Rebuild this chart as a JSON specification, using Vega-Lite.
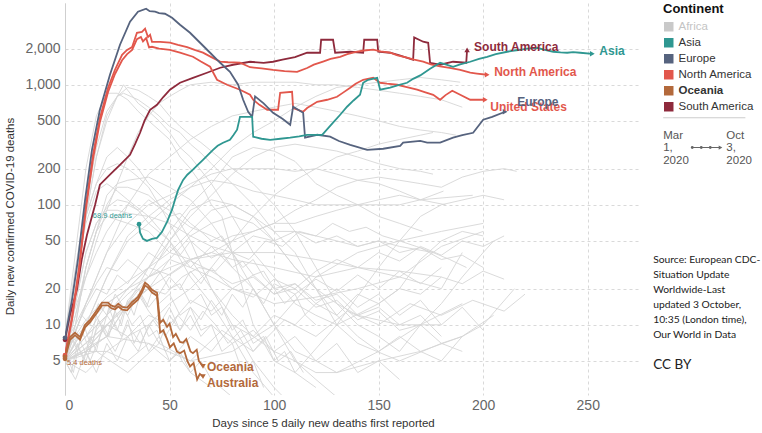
{
"$schema": "https://vega.github.io/schema/vega-lite/v6.json",
"width": 575, "height": 392,
"autosize": {"type": "none"},
"padding": {"left": 65, "top": 3, "right": 122, "bottom": 38},
"background": "white",
"config": {"font": "Liberation Sans", "view": {"stroke": null}},
"datasets": {
"gray": [
{"id":"g01","day":0,"deaths":6},{"id":"g01","day":5,"deaths":12},{"id":"g01","day":10,"deaths":25},{"id":"g01","day":15,"deaths":50},{"id":"g01","day":20,"deaths":90},{"id":"g01","day":25,"deaths":150},{"id":"g01","day":30,"deaths":250},{"id":"g01","day":35,"deaths":400},{"id":"g01","day":40,"deaths":550},{"id":"g01","day":45,"deaths":700},{"id":"g01","day":50,"deaths":800},{"id":"g01","day":55,"deaths":900},{"id":"g01","day":60,"deaths":1000},{"id":"g01","day":70,"deaths":1050},{"id":"g01","day":80,"deaths":1000},{"id":"g01","day":90,"deaths":1050},{"id":"g01","day":100,"deaths":1050},{"id":"g01","day":110,"deaths":1050},{"id":"g01","day":120,"deaths":1000},{"id":"g01","day":130,"deaths":1000},{"id":"g01","day":140,"deaths":950},{"id":"g01","day":150,"deaths":900},{"id":"g01","day":160,"deaths":850},{"id":"g01","day":170,"deaths":800},{"id":"g01","day":180,"deaths":750},{"id":"g01","day":190,"deaths":650},
{"id":"g02","day":0,"deaths":5},{"id":"g02","day":10,"deaths":10},{"id":"g02","day":20,"deaths":25},{"id":"g02","day":30,"deaths":50},{"id":"g02","day":40,"deaths":70},{"id":"g02","day":50,"deaths":100},{"id":"g02","day":60,"deaths":140},{"id":"g02","day":70,"deaths":200},{"id":"g02","day":80,"deaths":300},{"id":"g02","day":90,"deaths":400},{"id":"g02","day":100,"deaths":500},{"id":"g02","day":110,"deaths":650},{"id":"g02","day":120,"deaths":800},{"id":"g02","day":130,"deaths":950},{"id":"g02","day":140,"deaths":1000},{"id":"g02","day":150,"deaths":1050},{"id":"g02","day":160,"deaths":1100},{"id":"g02","day":170,"deaths":1150},{"id":"g02","day":180,"deaths":1100},{"id":"g02","day":189,"deaths":1050},
{"id":"g03","day":0,"deaths":5},{"id":"g03","day":10,"deaths":15},{"id":"g03","day":20,"deaths":40},{"id":"g03","day":30,"deaths":100},{"id":"g03","day":40,"deaths":180},{"id":"g03","day":50,"deaths":250},{"id":"g03","day":60,"deaths":350},{"id":"g03","day":70,"deaths":450},{"id":"g03","day":80,"deaths":550},{"id":"g03","day":90,"deaths":600},{"id":"g03","day":100,"deaths":650},{"id":"g03","day":110,"deaths":700},{"id":"g03","day":120,"deaths":650},{"id":"g03","day":130,"deaths":600},{"id":"g03","day":140,"deaths":550},{"id":"g03","day":150,"deaths":500},{"id":"g03","day":160,"deaths":450},{"id":"g03","day":170,"deaths":420},{"id":"g03","day":180,"deaths":400},{"id":"g03","day":187,"deaths":380},
{"id":"g04","day":0,"deaths":6},{"id":"g04","day":5,"deaths":20},{"id":"g04","day":10,"deaths":80},{"id":"g04","day":15,"deaths":250},{"id":"g04","day":20,"deaths":550},{"id":"g04","day":25,"deaths":800},{"id":"g04","day":30,"deaths":950},{"id":"g04","day":35,"deaths":900},{"id":"g04","day":40,"deaths":800},{"id":"g04","day":45,"deaths":700},{"id":"g04","day":50,"deaths":550},{"id":"g04","day":55,"deaths":450},{"id":"g04","day":60,"deaths":380},{"id":"g04","day":65,"deaths":330},{"id":"g04","day":70,"deaths":280},{"id":"g04","day":80,"deaths":200},{"id":"g04","day":90,"deaths":150},{"id":"g04","day":100,"deaths":100},{"id":"g04","day":110,"deaths":60},{"id":"g04","day":120,"deaths":30},{"id":"g04","day":130,"deaths":15},{"id":"g04","day":140,"deaths":10},{"id":"g04","day":150,"deaths":8},{"id":"g04","day":160,"deaths":6},{"id":"g04","day":170,"deaths":10},{"id":"g04","day":180,"deaths":15},{"id":"g04","day":190,"deaths":25},{"id":"g04","day":200,"deaths":40},{"id":"g04","day":205,"deaths":50},
{"id":"g05","day":0,"deaths":8},{"id":"g05","day":5,"deaths":30},{"id":"g05","day":10,"deaths":100},{"id":"g05","day":15,"deaths":300},{"id":"g05","day":20,"deaths":600},{"id":"g05","day":25,"deaths":800},{"id":"g05","day":28,"deaths":850},{"id":"g05","day":35,"deaths":750},{"id":"g05","day":40,"deaths":650},{"id":"g05","day":45,"deaths":550},{"id":"g05","day":50,"deaths":450},{"id":"g05","day":55,"deaths":400},{"id":"g05","day":60,"deaths":320},{"id":"g05","day":65,"deaths":270},{"id":"g05","day":70,"deaths":220},{"id":"g05","day":75,"deaths":180},{"id":"g05","day":80,"deaths":150},{"id":"g05","day":90,"deaths":100},{"id":"g05","day":100,"deaths":60},{"id":"g05","day":110,"deaths":40},{"id":"g05","day":120,"deaths":20},{"id":"g05","day":130,"deaths":12},{"id":"g05","day":140,"deaths":8},{"id":"g05","day":150,"deaths":6},{"id":"g05","day":160,"deaths":8},{"id":"g05","day":170,"deaths":6},{"id":"g05","day":180,"deaths":5},{"id":"g05","day":190,"deaths":8},{"id":"g05","day":200,"deaths":10},{"id":"g05","day":215,"deaths":20},
{"id":"g06","day":0,"deaths":8},{"id":"g06","day":5,"deaths":40},{"id":"g06","day":10,"deaths":200},{"id":"g06","day":15,"deaths":550},{"id":"g06","day":20,"deaths":850},{"id":"g06","day":25,"deaths":850},{"id":"g06","day":30,"deaths":750},{"id":"g06","day":35,"deaths":600},{"id":"g06","day":40,"deaths":500},{"id":"g06","day":45,"deaths":420},{"id":"g06","day":50,"deaths":350},{"id":"g06","day":55,"deaths":250},{"id":"g06","day":60,"deaths":200},{"id":"g06","day":65,"deaths":150},{"id":"g06","day":70,"deaths":100},{"id":"g06","day":75,"deaths":80},{"id":"g06","day":80,"deaths":40},{"id":"g06","day":90,"deaths":10},{"id":"g06","day":100,"deaths":5},{"id":"g06","day":110,"deaths":4},{"id":"g06","day":130,"deaths":10},{"id":"g06","day":150,"deaths":30},{"id":"g06","day":160,"deaths":50},{"id":"g06","day":170,"deaths":80},{"id":"g06","day":180,"deaths":100},{"id":"g06","day":200,"deaths":120},{"id":"g06","day":210,"deaths":110},
{"id":"g07","day":0,"deaths":6},{"id":"g07","day":5,"deaths":25},{"id":"g07","day":10,"deaths":80},{"id":"g07","day":15,"deaths":250},{"id":"g07","day":20,"deaths":500},{"id":"g07","day":25,"deaths":800},{"id":"g07","day":28,"deaths":1000},{"id":"g07","day":30,"deaths":900},{"id":"g07","day":35,"deaths":700},{"id":"g07","day":40,"deaths":600},{"id":"g07","day":45,"deaths":500},{"id":"g07","day":50,"deaths":400},{"id":"g07","day":55,"deaths":300},{"id":"g07","day":60,"deaths":250},{"id":"g07","day":70,"deaths":150},{"id":"g07","day":80,"deaths":80},{"id":"g07","day":90,"deaths":40},{"id":"g07","day":100,"deaths":25},{"id":"g07","day":110,"deaths":15},{"id":"g07","day":120,"deaths":12},{"id":"g07","day":130,"deaths":10},{"id":"g07","day":150,"deaths":15},{"id":"g07","day":160,"deaths":20},{"id":"g07","day":170,"deaths":35},{"id":"g07","day":180,"deaths":50},{"id":"g07","day":190,"deaths":60},{"id":"g07","day":200,"deaths":55},
{"id":"g08","day":0,"deaths":5},{"id":"g08","day":10,"deaths":15},{"id":"g08","day":20,"deaths":40},{"id":"g08","day":30,"deaths":70},{"id":"g08","day":40,"deaths":100},{"id":"g08","day":50,"deaths":120},{"id":"g08","day":60,"deaths":150},{"id":"g08","day":70,"deaths":180},{"id":"g08","day":80,"deaths":200},{"id":"g08","day":90,"deaths":200},{"id":"g08","day":100,"deaths":200},{"id":"g08","day":110,"deaths":190},{"id":"g08","day":120,"deaths":200},{"id":"g08","day":130,"deaths":180},{"id":"g08","day":140,"deaths":160},{"id":"g08","day":150,"deaths":150},{"id":"g08","day":160,"deaths":130},{"id":"g08","day":170,"deaths":110},{"id":"g08","day":182,"deaths":100},
{"id":"g09","day":0,"deaths":5},{"id":"g09","day":10,"deaths":8},{"id":"g09","day":20,"deaths":12},{"id":"g09","day":30,"deaths":20},{"id":"g09","day":40,"deaths":30},{"id":"g09","day":50,"deaths":50},{"id":"g09","day":60,"deaths":80},{"id":"g09","day":70,"deaths":120},{"id":"g09","day":80,"deaths":180},{"id":"g09","day":90,"deaths":250},{"id":"g09","day":100,"deaths":300},{"id":"g09","day":110,"deaths":320},{"id":"g09","day":120,"deaths":300},{"id":"g09","day":130,"deaths":280},{"id":"g09","day":140,"deaths":250},{"id":"g09","day":150,"deaths":220},{"id":"g09","day":160,"deaths":200},{"id":"g09","day":170,"deaths":190},{"id":"g09","day":176,"deaths":180},
{"id":"g10","day":0,"deaths":5},{"id":"g10","day":10,"deaths":6},{"id":"g10","day":20,"deaths":6},{"id":"g10","day":30,"deaths":8},{"id":"g10","day":40,"deaths":10},{"id":"g10","day":50,"deaths":15},{"id":"g10","day":60,"deaths":20},{"id":"g10","day":70,"deaths":30},{"id":"g10","day":80,"deaths":50},{"id":"g10","day":90,"deaths":80},{"id":"g10","day":100,"deaths":120},{"id":"g10","day":110,"deaths":160},{"id":"g10","day":120,"deaths":200},{"id":"g10","day":130,"deaths":250},{"id":"g10","day":140,"deaths":280},{"id":"g10","day":150,"deaths":320},{"id":"g10","day":160,"deaths":350},{"id":"g10","day":170,"deaths":380},{"id":"g10","day":176,"deaths":400},
{"id":"g11","day":0,"deaths":6},{"id":"g11","day":5,"deaths":12},{"id":"g11","day":10,"deaths":30},{"id":"g11","day":15,"deaths":60},{"id":"g11","day":20,"deaths":100},{"id":"g11","day":25,"deaths":140},{"id":"g11","day":30,"deaths":140},{"id":"g11","day":35,"deaths":130},{"id":"g11","day":40,"deaths":120},{"id":"g11","day":45,"deaths":100},{"id":"g11","day":50,"deaths":90},{"id":"g11","day":55,"deaths":75},{"id":"g11","day":60,"deaths":65},{"id":"g11","day":65,"deaths":60},{"id":"g11","day":70,"deaths":55},{"id":"g11","day":75,"deaths":50},{"id":"g11","day":80,"deaths":55},{"id":"g11","day":90,"deaths":60},{"id":"g11","day":100,"deaths":70},{"id":"g11","day":110,"deaths":90},{"id":"g11","day":120,"deaths":110},{"id":"g11","day":130,"deaths":140},{"id":"g11","day":140,"deaths":160},{"id":"g11","day":150,"deaths":170},{"id":"g11","day":160,"deaths":160},{"id":"g11","day":170,"deaths":150},{"id":"g11","day":180,"deaths":140},{"id":"g11","day":190,"deaths":170},{"id":"g11","day":200,"deaths":190},{"id":"g11","day":210,"deaths":200},{"id":"g11","day":216,"deaths":190},
{"id":"g12","day":0,"deaths":5},{"id":"g12","day":10,"deaths":10},{"id":"g12","day":20,"deaths":25},{"id":"g12","day":30,"deaths":55},{"id":"g12","day":40,"deaths":80},{"id":"g12","day":50,"deaths":110},{"id":"g12","day":60,"deaths":140},{"id":"g12","day":70,"deaths":160},{"id":"g12","day":80,"deaths":150},{"id":"g12","day":90,"deaths":130},{"id":"g12","day":100,"deaths":120},{"id":"g12","day":110,"deaths":110},{"id":"g12","day":120,"deaths":100},{"id":"g12","day":140,"deaths":100},{"id":"g12","day":160,"deaths":100},{"id":"g12","day":170,"deaths":110},{"id":"g12","day":181,"deaths":130},
{"id":"g13","day":0,"deaths":6},{"id":"g13","day":5,"deaths":20},{"id":"g13","day":10,"deaths":80},{"id":"g13","day":15,"deaths":150},{"id":"g13","day":20,"deaths":200},{"id":"g13","day":25,"deaths":220},{"id":"g13","day":30,"deaths":200},{"id":"g13","day":35,"deaths":170},{"id":"g13","day":40,"deaths":140},{"id":"g13","day":45,"deaths":100},{"id":"g13","day":50,"deaths":70},{"id":"g13","day":55,"deaths":50},{"id":"g13","day":60,"deaths":35},{"id":"g13","day":70,"deaths":20},{"id":"g13","day":80,"deaths":12},{"id":"g13","day":90,"deaths":8},{"id":"g13","day":100,"deaths":6},{"id":"g13","day":110,"deaths":5},{"id":"g13","day":120,"deaths":4},{"id":"g13","day":130,"deaths":4},{"id":"g13","day":150,"deaths":5},{"id":"g13","day":170,"deaths":6},{"id":"g13","day":190,"deaths":8},{"id":"g13","day":205,"deaths":12},
{"id":"g14","day":0,"deaths":5},{"id":"g14","day":5,"deaths":20},{"id":"g14","day":10,"deaths":80},{"id":"g14","day":15,"deaths":150},{"id":"g14","day":20,"deaths":250},{"id":"g14","day":25,"deaths":300},{"id":"g14","day":30,"deaths":250},{"id":"g14","day":35,"deaths":200},{"id":"g14","day":40,"deaths":150},{"id":"g14","day":50,"deaths":100},{"id":"g14","day":60,"deaths":50},{"id":"g14","day":70,"deaths":20},{"id":"g14","day":80,"deaths":10},{"id":"g14","day":90,"deaths":5},{"id":"g14","day":100,"deaths":3},{"id":"g14","day":110,"deaths":2},
{"id":"g15","day":0,"deaths":6},{"id":"g15","day":5,"deaths":25},{"id":"g15","day":10,"deaths":70},{"id":"g15","day":15,"deaths":130},{"id":"g15","day":20,"deaths":150},{"id":"g15","day":25,"deaths":130},{"id":"g15","day":30,"deaths":110},{"id":"g15","day":40,"deaths":80},{"id":"g15","day":50,"deaths":50},{"id":"g15","day":60,"deaths":25},{"id":"g15","day":70,"deaths":15},{"id":"g15","day":80,"deaths":8},{"id":"g15","day":90,"deaths":4},{"id":"g15","day":100,"deaths":2.5},
{"id":"g16","day":0,"deaths":5},{"id":"g16","day":5,"deaths":15},{"id":"g16","day":10,"deaths":40},{"id":"g16","day":15,"deaths":70},{"id":"g16","day":20,"deaths":90},{"id":"g16","day":25,"deaths":90},{"id":"g16","day":30,"deaths":85},{"id":"g16","day":40,"deaths":80},{"id":"g16","day":50,"deaths":70},{"id":"g16","day":60,"deaths":55},{"id":"g16","day":70,"deaths":45},{"id":"g16","day":80,"deaths":30},{"id":"g16","day":90,"deaths":20},{"id":"g16","day":100,"deaths":10},{"id":"g16","day":110,"deaths":5},{"id":"g16","day":120,"deaths":3.5},{"id":"g16","day":130,"deaths":2.5},
{"id":"g17","day":0,"deaths":5},{"id":"g17","day":5,"deaths":10},{"id":"g17","day":10,"deaths":30},{"id":"g17","day":15,"deaths":60},{"id":"g17","day":20,"deaths":120},{"id":"g17","day":25,"deaths":150},{"id":"g17","day":30,"deaths":160},{"id":"g17","day":40,"deaths":170},{"id":"g17","day":50,"deaths":140},{"id":"g17","day":60,"deaths":110},{"id":"g17","day":70,"deaths":70},{"id":"g17","day":80,"deaths":40},{"id":"g17","day":90,"deaths":20},{"id":"g17","day":100,"deaths":10},{"id":"g17","day":110,"deaths":6},{"id":"g17","day":120,"deaths":5},{"id":"g17","day":130,"deaths":4},{"id":"g17","day":150,"deaths":6},{"id":"g17","day":170,"deaths":10},{"id":"g17","day":190,"deaths":15},
{"id":"g18","day":0,"deaths":5},{"id":"g18","day":5,"deaths":10},{"id":"g18","day":10,"deaths":30},{"id":"g18","day":15,"deaths":60},{"id":"g18","day":20,"deaths":80},{"id":"g18","day":30,"deaths":70},{"id":"g18","day":40,"deaths":60},{"id":"g18","day":50,"deaths":40},{"id":"g18","day":60,"deaths":35},{"id":"g18","day":70,"deaths":40},{"id":"g18","day":80,"deaths":35},{"id":"g18","day":100,"deaths":30},{"id":"g18","day":120,"deaths":25},{"id":"g18","day":140,"deaths":30},{"id":"g18","day":160,"deaths":25},{"id":"g18","day":180,"deaths":20},{"id":"g18","day":190,"deaths":40},
{"id":"g19","day":0,"deaths":5},{"id":"g19","day":10,"deaths":6},{"id":"g19","day":20,"deaths":8},{"id":"g19","day":30,"deaths":15},{"id":"g19","day":40,"deaths":25},{"id":"g19","day":50,"deaths":50},{"id":"g19","day":60,"deaths":90},{"id":"g19","day":70,"deaths":110},{"id":"g19","day":80,"deaths":100},{"id":"g19","day":90,"deaths":80},{"id":"g19","day":100,"deaths":60},{"id":"g19","day":110,"deaths":60},{"id":"g19","day":120,"deaths":55},{"id":"g19","day":130,"deaths":50},{"id":"g19","day":140,"deaths":45},{"id":"g19","day":150,"deaths":50},{"id":"g19","day":160,"deaths":45},{"id":"g19","day":176,"deaths":40},
{"id":"g20","day":0,"deaths":5},{"id":"g20","day":10,"deaths":6},{"id":"g20","day":20,"deaths":8},{"id":"g20","day":30,"deaths":15},{"id":"g20","day":40,"deaths":30},{"id":"g20","day":50,"deaths":60},{"id":"g20","day":60,"deaths":100},{"id":"g20","day":70,"deaths":150},{"id":"g20","day":80,"deaths":250},{"id":"g20","day":90,"deaths":300},{"id":"g20","day":100,"deaths":280},{"id":"g20","day":110,"deaths":230},{"id":"g20","day":120,"deaths":150},{"id":"g20","day":130,"deaths":120},{"id":"g20","day":140,"deaths":100},{"id":"g20","day":150,"deaths":80},{"id":"g20","day":160,"deaths":70},{"id":"g20","day":171,"deaths":60},
{"id":"g21","day":0,"deaths":6},{"id":"g21","day":10,"deaths":10},{"id":"g21","day":20,"deaths":15},{"id":"g21","day":30,"deaths":20},{"id":"g21","day":40,"deaths":25},{"id":"g21","day":50,"deaths":30},{"id":"g21","day":60,"deaths":35},{"id":"g21","day":70,"deaths":40},{"id":"g21","day":80,"deaths":50},{"id":"g21","day":90,"deaths":60},{"id":"g21","day":100,"deaths":70},{"id":"g21","day":110,"deaths":70},{"id":"g21","day":120,"deaths":80},{"id":"g21","day":130,"deaths":90},{"id":"g21","day":140,"deaths":100},{"id":"g21","day":150,"deaths":110},{"id":"g21","day":160,"deaths":120},{"id":"g21","day":170,"deaths":110},{"id":"g21","day":195,"deaths":120},
{"id":"g22","day":0,"deaths":5},{"id":"g22","day":5,"deaths":15},{"id":"g22","day":10,"deaths":40},{"id":"g22","day":15,"deaths":70},{"id":"g22","day":20,"deaths":95},{"id":"g22","day":25,"deaths":110},{"id":"g22","day":30,"deaths":105},{"id":"g22","day":35,"deaths":90},{"id":"g22","day":40,"deaths":70},{"id":"g22","day":50,"deaths":50},{"id":"g22","day":60,"deaths":30},{"id":"g22","day":70,"deaths":25},{"id":"g22","day":80,"deaths":20},{"id":"g22","day":90,"deaths":18},{"id":"g22","day":100,"deaths":15},{"id":"g22","day":120,"deaths":17},{"id":"g22","day":140,"deaths":20},{"id":"g22","day":160,"deaths":25},{"id":"g22","day":180,"deaths":45},{"id":"g22","day":200,"deaths":60},
{"id":"g23","day":0,"deaths":5},{"id":"g23","day":10,"deaths":8},{"id":"g23","day":20,"deaths":15},{"id":"g23","day":30,"deaths":20},{"id":"g23","day":40,"deaths":30},{"id":"g23","day":50,"deaths":40},{"id":"g23","day":60,"deaths":60},{"id":"g23","day":70,"deaths":90},{"id":"g23","day":80,"deaths":100},{"id":"g23","day":90,"deaths":80},{"id":"g23","day":100,"deaths":50},{"id":"g23","day":110,"deaths":30},{"id":"g23","day":120,"deaths":20},{"id":"g23","day":130,"deaths":10},{"id":"g23","day":140,"deaths":7},{"id":"g23","day":160,"deaths":5},{"id":"g23","day":180,"deaths":7},{"id":"g23","day":190,"deaths":6},
{"id":"g24","day":0,"deaths":5},{"id":"g24","day":10,"deaths":6},{"id":"g24","day":20,"deaths":10},{"id":"g24","day":30,"deaths":15},{"id":"g24","day":40,"deaths":20},{"id":"g24","day":50,"deaths":35},{"id":"g24","day":60,"deaths":55},{"id":"g24","day":70,"deaths":70},{"id":"g24","day":80,"deaths":80},{"id":"g24","day":90,"deaths":70},{"id":"g24","day":100,"deaths":50},{"id":"g24","day":110,"deaths":30},{"id":"g24","day":120,"deaths":20},{"id":"g24","day":130,"deaths":15},{"id":"g24","day":140,"deaths":12},{"id":"g24","day":160,"deaths":10},{"id":"g24","day":180,"deaths":10},
{"id":"g25","day":0,"deaths":5},{"id":"g25","day":20,"deaths":10},{"id":"g25","day":40,"deaths":20},{"id":"g25","day":60,"deaths":35},{"id":"g25","day":80,"deaths":40},{"id":"g25","day":100,"deaths":40},{"id":"g25","day":120,"deaths":35},{"id":"g25","day":140,"deaths":30},{"id":"g25","day":160,"deaths":28},{"id":"g25","day":180,"deaths":25},
{"id":"g26","day":0,"deaths":5},{"id":"g26","day":20,"deaths":8},{"id":"g26","day":40,"deaths":7},{"id":"g26","day":60,"deaths":5},{"id":"g26","day":80,"deaths":6},{"id":"g26","day":100,"deaths":10},{"id":"g26","day":120,"deaths":25},{"id":"g26","day":140,"deaths":40},{"id":"g26","day":160,"deaths":50},{"id":"g26","day":180,"deaths":60},{"id":"g26","day":200,"deaths":70},
{"id":"l01","day":0,"deaths":5},{"id":"l01","day":3,"deaths":8},{"id":"l01","day":6,"deaths":6},{"id":"l01","day":9,"deaths":10},{"id":"l01","day":12,"deaths":7},{"id":"l01","day":15,"deaths":12},{"id":"l01","day":18,"deaths":9},{"id":"l01","day":21,"deaths":14},{"id":"l01","day":24,"deaths":10},{"id":"l01","day":27,"deaths":8},{"id":"l01","day":30,"deaths":11},{"id":"l01","day":33,"deaths":7},{"id":"l01","day":36,"deaths":9},{"id":"l01","day":40,"deaths":6},{"id":"l01","day":45,"deaths":8},{"id":"l01","day":50,"deaths":5},{"id":"l01","day":55,"deaths":6},{"id":"l01","day":60,"deaths":4},{"id":"l01","day":65,"deaths":5},{"id":"l01","day":70,"deaths":3.5},{"id":"l01","day":80,"deaths":2.5},
{"id":"l02","day":0,"deaths":6},{"id":"l02","day":4,"deaths":4},{"id":"l02","day":8,"deaths":9},{"id":"l02","day":12,"deaths":6},{"id":"l02","day":16,"deaths":11},{"id":"l02","day":20,"deaths":8},{"id":"l02","day":25,"deaths":15},{"id":"l02","day":30,"deaths":12},{"id":"l02","day":35,"deaths":18},{"id":"l02","day":40,"deaths":13},{"id":"l02","day":45,"deaths":10},{"id":"l02","day":50,"deaths":14},{"id":"l02","day":55,"deaths":9},{"id":"l02","day":60,"deaths":12},{"id":"l02","day":65,"deaths":8},{"id":"l02","day":70,"deaths":10},{"id":"l02","day":80,"deaths":7},{"id":"l02","day":90,"deaths":9},{"id":"l02","day":100,"deaths":6},{"id":"l02","day":110,"deaths":8},{"id":"l02","day":120,"deaths":5},{"id":"l02","day":130,"deaths":7},{"id":"l02","day":140,"deaths":4},{"id":"l02","day":150,"deaths":5},{"id":"l02","day":160,"deaths":3.5},
{"id":"l03","day":0,"deaths":5},{"id":"l03","day":5,"deaths":7},{"id":"l03","day":10,"deaths":5},{"id":"l03","day":15,"deaths":9},{"id":"l03","day":20,"deaths":12},{"id":"l03","day":25,"deaths":9},{"id":"l03","day":30,"deaths":16},{"id":"l03","day":35,"deaths":20},{"id":"l03","day":40,"deaths":14},{"id":"l03","day":45,"deaths":18},{"id":"l03","day":50,"deaths":25},{"id":"l03","day":55,"deaths":20},{"id":"l03","day":60,"deaths":28},{"id":"l03","day":65,"deaths":22},{"id":"l03","day":70,"deaths":30},{"id":"l03","day":75,"deaths":24},{"id":"l03","day":80,"deaths":20},{"id":"l03","day":90,"deaths":26},{"id":"l03","day":100,"deaths":18},{"id":"l03","day":110,"deaths":22},{"id":"l03","day":120,"deaths":15},{"id":"l03","day":130,"deaths":20},{"id":"l03","day":140,"deaths":14},{"id":"l03","day":150,"deaths":18},{"id":"l03","day":160,"deaths":12},{"id":"l03","day":170,"deaths":16},{"id":"l03","day":180,"deaths":10},{"id":"l03","day":190,"deaths":14},{"id":"l03","day":200,"deaths":9},
{"id":"l04","day":0,"deaths":5},{"id":"l04","day":10,"deaths":4},{"id":"l04","day":20,"deaths":6},{"id":"l04","day":30,"deaths":5},{"id":"l04","day":40,"deaths":7},{"id":"l04","day":50,"deaths":5},{"id":"l04","day":60,"deaths":8},{"id":"l04","day":70,"deaths":6},{"id":"l04","day":80,"deaths":10},{"id":"l04","day":90,"deaths":8},{"id":"l04","day":100,"deaths":12},{"id":"l04","day":110,"deaths":10},{"id":"l04","day":120,"deaths":15},{"id":"l04","day":130,"deaths":12},{"id":"l04","day":140,"deaths":18},{"id":"l04","day":150,"deaths":15},{"id":"l04","day":160,"deaths":20},{"id":"l04","day":170,"deaths":18},{"id":"l04","day":180,"deaths":25},{"id":"l04","day":190,"deaths":22},{"id":"l04","day":200,"deaths":28},{"id":"l04","day":210,"deaths":24},
{"id":"l05","day":0,"deaths":5},{"id":"l05","day":5,"deaths":3.5},{"id":"l05","day":10,"deaths":6},{"id":"l05","day":15,"deaths":4},{"id":"l05","day":20,"deaths":7},{"id":"l05","day":25,"deaths":5},{"id":"l05","day":30,"deaths":8},{"id":"l05","day":35,"deaths":6},{"id":"l05","day":40,"deaths":10},{"id":"l05","day":45,"deaths":7},{"id":"l05","day":50,"deaths":12},{"id":"l05","day":55,"deaths":9},{"id":"l05","day":60,"deaths":14},{"id":"l05","day":65,"deaths":11},{"id":"l05","day":70,"deaths":16},{"id":"l05","day":75,"deaths":12},{"id":"l05","day":80,"deaths":18},{"id":"l05","day":85,"deaths":14},{"id":"l05","day":90,"deaths":20},{"id":"l05","day":95,"deaths":15},{"id":"l05","day":100,"deaths":22},{"id":"l05","day":110,"deaths":18},{"id":"l05","day":120,"deaths":24},{"id":"l05","day":130,"deaths":19},{"id":"l05","day":140,"deaths":26},{"id":"l05","day":150,"deaths":20},{"id":"l05","day":160,"deaths":28},{"id":"l05","day":170,"deaths":22},{"id":"l05","day":180,"deaths":30},
{"id":"l06","day":0,"deaths":7},{"id":"l06","day":5,"deaths":10},{"id":"l06","day":10,"deaths":15},{"id":"l06","day":15,"deaths":22},{"id":"l06","day":20,"deaths":30},{"id":"l06","day":25,"deaths":28},{"id":"l06","day":30,"deaths":35},{"id":"l06","day":35,"deaths":30},{"id":"l06","day":40,"deaths":25},{"id":"l06","day":45,"deaths":28},{"id":"l06","day":50,"deaths":20},{"id":"l06","day":55,"deaths":22},{"id":"l06","day":60,"deaths":15},{"id":"l06","day":65,"deaths":18},{"id":"l06","day":70,"deaths":12},{"id":"l06","day":75,"deaths":14},{"id":"l06","day":80,"deaths":9},{"id":"l06","day":85,"deaths":11},{"id":"l06","day":90,"deaths":7},{"id":"l06","day":95,"deaths":8},{"id":"l06","day":100,"deaths":5},{"id":"l06","day":105,"deaths":6},{"id":"l06","day":110,"deaths":4},{"id":"l06","day":120,"deaths":3},
{"id":"l07","day":0,"deaths":5},{"id":"l07","day":5,"deaths":9},{"id":"l07","day":10,"deaths":14},{"id":"l07","day":15,"deaths":20},{"id":"l07","day":20,"deaths":18},{"id":"l07","day":25,"deaths":26},{"id":"l07","day":30,"deaths":22},{"id":"l07","day":35,"deaths":30},{"id":"l07","day":40,"deaths":40},{"id":"l07","day":45,"deaths":35},{"id":"l07","day":50,"deaths":45},{"id":"l07","day":55,"deaths":38},{"id":"l07","day":60,"deaths":50},{"id":"l07","day":65,"deaths":42},{"id":"l07","day":70,"deaths":36},{"id":"l07","day":75,"deaths":40},{"id":"l07","day":80,"deaths":30},{"id":"l07","day":85,"deaths":34},{"id":"l07","day":90,"deaths":26},{"id":"l07","day":95,"deaths":28},{"id":"l07","day":100,"deaths":20},{"id":"l07","day":110,"deaths":22},{"id":"l07","day":120,"deaths":16},{"id":"l07","day":130,"deaths":18},{"id":"l07","day":140,"deaths":12},{"id":"l07","day":150,"deaths":14},{"id":"l07","day":160,"deaths":10},{"id":"l07","day":170,"deaths":12},{"id":"l07","day":180,"deaths":8},
{"id":"l08","day":0,"deaths":6},{"id":"l08","day":4,"deaths":8},{"id":"l08","day":8,"deaths":12},{"id":"l08","day":12,"deaths":10},{"id":"l08","day":16,"deaths":15},{"id":"l08","day":20,"deaths":12},{"id":"l08","day":24,"deaths":18},{"id":"l08","day":28,"deaths":14},{"id":"l08","day":32,"deaths":10},{"id":"l08","day":36,"deaths":12},{"id":"l08","day":40,"deaths":8},{"id":"l08","day":44,"deaths":9},{"id":"l08","day":48,"deaths":6},{"id":"l08","day":52,"deaths":7},{"id":"l08","day":56,"deaths":5},{"id":"l08","day":60,"deaths":4},{"id":"l08","day":70,"deaths":3},
{"id":"l09","day":0,"deaths":5},{"id":"l09","day":10,"deaths":8},{"id":"l09","day":20,"deaths":12},{"id":"l09","day":30,"deaths":18},{"id":"l09","day":40,"deaths":25},{"id":"l09","day":50,"deaths":35},{"id":"l09","day":60,"deaths":30},{"id":"l09","day":70,"deaths":45},{"id":"l09","day":80,"deaths":40},{"id":"l09","day":90,"deaths":55},{"id":"l09","day":100,"deaths":50},{"id":"l09","day":110,"deaths":60},{"id":"l09","day":120,"deaths":48},{"id":"l09","day":130,"deaths":55},{"id":"l09","day":140,"deaths":45},{"id":"l09","day":150,"deaths":50},{"id":"l09","day":160,"deaths":40},{"id":"l09","day":170,"deaths":44},{"id":"l09","day":180,"deaths":35},{"id":"l09","day":190,"deaths":38},{"id":"l09","day":200,"deaths":30},
{"id":"l10","day":0,"deaths":5},{"id":"l10","day":3,"deaths":4},{"id":"l10","day":6,"deaths":7},{"id":"l10","day":9,"deaths":5},{"id":"l10","day":12,"deaths":8},{"id":"l10","day":15,"deaths":6},{"id":"l10","day":18,"deaths":10},{"id":"l10","day":21,"deaths":8},{"id":"l10","day":24,"deaths":13},{"id":"l10","day":27,"deaths":10},{"id":"l10","day":30,"deaths":16},{"id":"l10","day":33,"deaths":12},{"id":"l10","day":36,"deaths":18},{"id":"l10","day":39,"deaths":14},{"id":"l10","day":42,"deaths":20},{"id":"l10","day":45,"deaths":15},{"id":"l10","day":50,"deaths":18},{"id":"l10","day":55,"deaths":12},{"id":"l10","day":60,"deaths":14},{"id":"l10","day":65,"deaths":9},{"id":"l10","day":70,"deaths":10},{"id":"l10","day":75,"deaths":6},{"id":"l10","day":80,"deaths":7},{"id":"l10","day":85,"deaths":4},{"id":"l10","day":90,"deaths":5},{"id":"l10","day":95,"deaths":3},
{"id":"l11","day":0,"deaths":5},{"id":"l11","day":15,"deaths":6},{"id":"l11","day":30,"deaths":4},{"id":"l11","day":45,"deaths":7},{"id":"l11","day":60,"deaths":5},{"id":"l11","day":75,"deaths":9},{"id":"l11","day":90,"deaths":6},{"id":"l11","day":105,"deaths":11},{"id":"l11","day":120,"deaths":8},{"id":"l11","day":135,"deaths":13},{"id":"l11","day":150,"deaths":10},{"id":"l11","day":165,"deaths":15},{"id":"l11","day":180,"deaths":12},{"id":"l11","day":195,"deaths":16},{"id":"l11","day":210,"deaths":13},{"id":"l11","day":220,"deaths":18},
{"id":"l12","day":0,"deaths":6},{"id":"l12","day":10,"deaths":11},{"id":"l12","day":20,"deaths":17},{"id":"l12","day":30,"deaths":23},{"id":"l12","day":40,"deaths":30},{"id":"l12","day":50,"deaths":26},{"id":"l12","day":60,"deaths":34},{"id":"l12","day":70,"deaths":28},{"id":"l12","day":80,"deaths":22},{"id":"l12","day":90,"deaths":25},{"id":"l12","day":100,"deaths":18},{"id":"l12","day":110,"deaths":20},{"id":"l12","day":120,"deaths":14},{"id":"l12","day":130,"deaths":16},{"id":"l12","day":140,"deaths":11},{"id":"l12","day":150,"deaths":13},{"id":"l12","day":160,"deaths":9},{"id":"l12","day":170,"deaths":10},{"id":"l12","day":180,"deaths":7},{"id":"l12","day":190,"deaths":8},
{"id":"l13","day":0,"deaths":5},{"id":"l13","day":6,"deaths":8},{"id":"l13","day":12,"deaths":5},{"id":"l13","day":18,"deaths":9},{"id":"l13","day":24,"deaths":6},{"id":"l13","day":30,"deaths":10},{"id":"l13","day":36,"deaths":7},{"id":"l13","day":42,"deaths":11},{"id":"l13","day":48,"deaths":8},{"id":"l13","day":54,"deaths":12},{"id":"l13","day":60,"deaths":9},{"id":"l13","day":66,"deaths":13},{"id":"l13","day":72,"deaths":10},{"id":"l13","day":78,"deaths":7},{"id":"l13","day":84,"deaths":9},{"id":"l13","day":90,"deaths":6},{"id":"l13","day":96,"deaths":8},{"id":"l13","day":102,"deaths":5},{"id":"l13","day":108,"deaths":6},{"id":"l13","day":114,"deaths":4},
{"id":"l14","day":0,"deaths":5},{"id":"l14","day":10,"deaths":7},{"id":"l14","day":20,"deaths":10},{"id":"l14","day":30,"deaths":8},{"id":"l14","day":40,"deaths":12},{"id":"l14","day":50,"deaths":10},{"id":"l14","day":60,"deaths":16},{"id":"l14","day":70,"deaths":13},{"id":"l14","day":80,"deaths":20},{"id":"l14","day":90,"deaths":17},{"id":"l14","day":100,"deaths":24},{"id":"l14","day":110,"deaths":20},{"id":"l14","day":120,"deaths":28},{"id":"l14","day":130,"deaths":35},{"id":"l14","day":140,"deaths":30},{"id":"l14","day":150,"deaths":40},{"id":"l14","day":160,"deaths":34},{"id":"l14","day":170,"deaths":45},{"id":"l14","day":180,"deaths":38},{"id":"l14","day":190,"deaths":50},{"id":"l14","day":200,"deaths":45},{"id":"l14","day":210,"deaths":55},
{"id":"l15","day":0,"deaths":8},{"id":"l15","day":5,"deaths":14},{"id":"l15","day":10,"deaths":25},{"id":"l15","day":15,"deaths":40},{"id":"l15","day":20,"deaths":60},{"id":"l15","day":25,"deaths":80},{"id":"l15","day":30,"deaths":100},{"id":"l15","day":35,"deaths":90},{"id":"l15","day":40,"deaths":110},{"id":"l15","day":45,"deaths":95},{"id":"l15","day":50,"deaths":80},{"id":"l15","day":55,"deaths":85},{"id":"l15","day":60,"deaths":70},{"id":"l15","day":65,"deaths":60},{"id":"l15","day":70,"deaths":50},{"id":"l15","day":75,"deaths":55},{"id":"l15","day":80,"deaths":40},{"id":"l15","day":85,"deaths":30},{"id":"l15","day":90,"deaths":35},{"id":"l15","day":95,"deaths":25},{"id":"l15","day":100,"deaths":20},{"id":"l15","day":105,"deaths":15},{"id":"l15","day":110,"deaths":18},{"id":"l15","day":115,"deaths":12},{"id":"l15","day":120,"deaths":10},
{"id":"l16","day":0,"deaths":5},{"id":"l16","day":8,"deaths":6},{"id":"l16","day":16,"deaths":8},{"id":"l16","day":24,"deaths":12},{"id":"l16","day":32,"deaths":16},{"id":"l16","day":40,"deaths":20},{"id":"l16","day":48,"deaths":18},{"id":"l16","day":56,"deaths":25},{"id":"l16","day":64,"deaths":30},{"id":"l16","day":72,"deaths":28},{"id":"l16","day":80,"deaths":40},{"id":"l16","day":88,"deaths":35},{"id":"l16","day":96,"deaths":50},{"id":"l16","day":104,"deaths":45},{"id":"l16","day":112,"deaths":60},{"id":"l16","day":120,"deaths":55},{"id":"l16","day":128,"deaths":70},{"id":"l16","day":136,"deaths":60},{"id":"l16","day":144,"deaths":65},{"id":"l16","day":152,"deaths":55},{"id":"l16","day":160,"deaths":50},{"id":"l16","day":168,"deaths":45},{"id":"l16","day":176,"deaths":40},{"id":"l16","day":184,"deaths":35},{"id":"l16","day":192,"deaths":30}
],
"main": [
{"name":"South America","cont":"South America","day":0,"deaths":7.5},{"name":"South America","cont":"South America","day":2.4,"deaths":12.1},{"name":"South America","cont":"South America","day":5.7,"deaths":19.6},{"name":"South America","cont":"South America","day":8,"deaths":35},{"name":"South America","cont":"South America","day":10.5,"deaths":56},{"name":"South America","cont":"South America","day":14.4,"deaths":100},{"name":"South America","cont":"South America","day":16.7,"deaths":147},{"name":"South America","cont":"South America","day":21.5,"deaths":178},{"name":"South America","cont":"South America","day":26.3,"deaths":215},{"name":"South America","cont":"South America","day":31.1,"deaths":261},{"name":"South America","cont":"South America","day":33.5,"deaths":320},{"name":"South America","cont":"South America","day":35.9,"deaths":398},{"name":"South America","cont":"South America","day":38,"deaths":500},{"name":"South America","cont":"South America","day":40.7,"deaths":619},{"name":"South America","cont":"South America","day":44,"deaths":681},{"name":"South America","cont":"South America","day":47,"deaths":790},{"name":"South America","cont":"South America","day":50.2,"deaths":909},{"name":"South America","cont":"South America","day":55,"deaths":1039},{"name":"South America","cont":"South America","day":61.2,"deaths":1143},{"name":"South America","cont":"South America","day":67.9,"deaths":1259},{"name":"South America","cont":"South America","day":74.2,"deaths":1386},{"name":"South America","cont":"South America","day":80.4,"deaths":1468},{"name":"South America","cont":"South America","day":88.5,"deaths":1555},{"name":"South America","cont":"South America","day":95,"deaths":1520},{"name":"South America","cont":"South America","day":99.5,"deaths":1555},{"name":"South America","cont":"South America","day":104,"deaths":1620},{"name":"South America","cont":"South America","day":110,"deaths":1700},{"name":"South America","cont":"South America","day":115.8,"deaths":1848},{"name":"South America","cont":"South America","day":122,"deaths":1848},{"name":"South America","cont":"South America","day":122.5,"deaths":2371},{"name":"South America","cont":"South America","day":128.2,"deaths":2371},{"name":"South America","cont":"South America","day":129.2,"deaths":1848},{"name":"South America","cont":"South America","day":136.4,"deaths":1884},{"name":"South America","cont":"South America","day":142.6,"deaths":1848},{"name":"South America","cont":"South America","day":143.1,"deaths":2371},{"name":"South America","cont":"South America","day":149.3,"deaths":2371},{"name":"South America","cont":"South America","day":149.8,"deaths":1884},{"name":"South America","cont":"South America","day":155.5,"deaths":1848},{"name":"South America","cont":"South America","day":160,"deaths":1760},{"name":"South America","cont":"South America","day":166.5,"deaths":1616},{"name":"South America","cont":"South America","day":167,"deaths":2477},{"name":"South America","cont":"South America","day":171.3,"deaths":2282},{"name":"South America","cont":"South America","day":173.7,"deaths":2239},{"name":"South America","cont":"South America","day":174.6,"deaths":1525},{"name":"South America","cont":"South America","day":179.4,"deaths":1468},{"name":"South America","cont":"South America","day":185.6,"deaths":1555},{"name":"South America","cont":"South America","day":191.9,"deaths":1525},{"name":"South America","cont":"South America","day":192.3,"deaths":1957},
{"name":"North America","cont":"North America","day":0,"deaths":5.6},{"name":"North America","cont":"North America","day":3.3,"deaths":11.4},{"name":"North America","cont":"North America","day":6.7,"deaths":29.8},{"name":"North America","cont":"North America","day":10,"deaths":100},{"name":"North America","cont":"North America","day":13.4,"deaths":261},{"name":"North America","cont":"North America","day":16.7,"deaths":530},{"name":"North America","cont":"North America","day":20.6,"deaths":945},{"name":"North America","cont":"North America","day":23.9,"deaths":1334},{"name":"North America","cont":"North America","day":27.3,"deaths":1778},{"name":"North America","cont":"North America","day":29.7,"deaths":1950},{"name":"North America","cont":"North America","day":32.1,"deaths":2060},{"name":"North America","cont":"North America","day":34.4,"deaths":2712},{"name":"North America","cont":"North America","day":36.8,"deaths":2760},{"name":"North America","cont":"North America","day":38.3,"deaths":2930},{"name":"North America","cont":"North America","day":39.7,"deaths":2500},{"name":"North America","cont":"North America","day":40.7,"deaths":2610},{"name":"North America","cont":"North America","day":41.6,"deaths":2280},{"name":"North America","cont":"North America","day":45.5,"deaths":2280},{"name":"North America","cont":"North America","day":50.2,"deaths":2240},{"name":"North America","cont":"North America","day":54,"deaths":2150},{"name":"North America","cont":"North America","day":58.4,"deaths":2060},{"name":"North America","cont":"North America","day":62,"deaths":1950},{"name":"North America","cont":"North America","day":66,"deaths":1850},{"name":"North America","cont":"North America","day":70,"deaths":1700},{"name":"North America","cont":"North America","day":74.2,"deaths":1560},{"name":"North America","cont":"North America","day":78,"deaths":1540},{"name":"North America","cont":"North America","day":83.7,"deaths":1530},{"name":"North America","cont":"North America","day":88.5,"deaths":1400},{"name":"North America","cont":"North America","day":94,"deaths":1370},{"name":"North America","cont":"North America","day":99.5,"deaths":1330},{"name":"North America","cont":"North America","day":105,"deaths":1300},{"name":"North America","cont":"North America","day":111,"deaths":1280},{"name":"North America","cont":"North America","day":115.8,"deaths":1380},{"name":"North America","cont":"North America","day":119,"deaths":1470},{"name":"North America","cont":"North America","day":123.4,"deaths":1560},{"name":"North America","cont":"North America","day":127,"deaths":1640},{"name":"North America","cont":"North America","day":131.6,"deaths":1710},{"name":"North America","cont":"North America","day":135,"deaths":1800},{"name":"North America","cont":"North America","day":139.7,"deaths":1890},{"name":"North America","cont":"North America","day":143,"deaths":1930},{"name":"North America","cont":"North America","day":147.4,"deaths":1960},{"name":"North America","cont":"North America","day":151,"deaths":1900},{"name":"North America","cont":"North America","day":155.5,"deaths":1850},{"name":"North America","cont":"North America","day":159,"deaths":1760},{"name":"North America","cont":"North America","day":163.6,"deaths":1680},{"name":"North America","cont":"North America","day":167,"deaths":1620},{"name":"North America","cont":"North America","day":171.3,"deaths":1560},{"name":"North America","cont":"North America","day":175,"deaths":1480},{"name":"North America","cont":"North America","day":179.4,"deaths":1420},{"name":"North America","cont":"North America","day":184,"deaths":1380},{"name":"North America","cont":"North America","day":189,"deaths":1330},{"name":"North America","cont":"North America","day":193.8,"deaths":1260},{"name":"North America","cont":"North America","day":197,"deaths":1240},{"name":"North America","cont":"North America","day":201.9,"deaths":1212},
{"name":"United States","cont":"North America","day":0,"deaths":5.5},{"name":"United States","cont":"North America","day":3.3,"deaths":11},{"name":"United States","cont":"North America","day":6.7,"deaths":28},{"name":"United States","cont":"North America","day":10,"deaths":92},{"name":"United States","cont":"North America","day":13.4,"deaths":240},{"name":"United States","cont":"North America","day":16.7,"deaths":490},{"name":"United States","cont":"North America","day":20.6,"deaths":870},{"name":"United States","cont":"North America","day":23.9,"deaths":1230},{"name":"United States","cont":"North America","day":27.3,"deaths":1600},{"name":"United States","cont":"North America","day":29.7,"deaths":1800},{"name":"United States","cont":"North America","day":32.1,"deaths":1950},{"name":"United States","cont":"North America","day":34.4,"deaths":2400},{"name":"United States","cont":"North America","day":36.3,"deaths":2500},{"name":"United States","cont":"North America","day":37.3,"deaths":2300},{"name":"United States","cont":"North America","day":38.8,"deaths":2450},{"name":"United States","cont":"North America","day":40.2,"deaths":2050},{"name":"United States","cont":"North America","day":41.6,"deaths":2073},{"name":"United States","cont":"North America","day":45,"deaths":2000},{"name":"United States","cont":"North America","day":50.2,"deaths":1957},{"name":"United States","cont":"North America","day":55,"deaths":1850},{"name":"United States","cont":"North America","day":61.2,"deaths":1711},{"name":"United States","cont":"North America","day":65,"deaths":1560},{"name":"United States","cont":"North America","day":69.4,"deaths":1413},{"name":"United States","cont":"North America","day":72.7,"deaths":1100},{"name":"United States","cont":"North America","day":77.5,"deaths":1000},{"name":"United States","cont":"North America","day":83.7,"deaths":909},{"name":"United States","cont":"North America","day":88.5,"deaths":825},{"name":"United States","cont":"North America","day":90,"deaths":750},{"name":"United States","cont":"North America","day":93,"deaths":680},{"name":"United States","cont":"North America","day":96.7,"deaths":619},{"name":"United States","cont":"North America","day":101.9,"deaths":619},{"name":"United States","cont":"North America","day":102.9,"deaths":858},{"name":"United States","cont":"North America","day":108.6,"deaths":874},{"name":"United States","cont":"North America","day":109.1,"deaths":640},{"name":"United States","cont":"North America","day":113.9,"deaths":596},{"name":"United States","cont":"North America","day":115.8,"deaths":640},{"name":"United States","cont":"North America","day":120.6,"deaths":721},{"name":"United States","cont":"North America","day":125.4,"deaths":750},{"name":"United States","cont":"North America","day":130.1,"deaths":794},{"name":"United States","cont":"North America","day":133,"deaths":860},{"name":"United States","cont":"North America","day":136.4,"deaths":945},{"name":"United States","cont":"North America","day":139,"deaths":1020},{"name":"United States","cont":"North America","day":142.6,"deaths":1100},{"name":"United States","cont":"North America","day":147.4,"deaths":1143},{"name":"United States","cont":"North America","day":150.7,"deaths":1039},{"name":"United States","cont":"North America","day":154,"deaths":1020},{"name":"United States","cont":"North America","day":158.9,"deaths":1000},{"name":"United States","cont":"North America","day":163,"deaths":960},{"name":"United States","cont":"North America","day":168.4,"deaths":909},{"name":"United States","cont":"North America","day":172,"deaths":870},{"name":"United States","cont":"North America","day":176.1,"deaths":825},{"name":"United States","cont":"North America","day":179.4,"deaths":750},{"name":"United States","cont":"North America","day":182,"deaths":820},{"name":"United States","cont":"North America","day":185.2,"deaths":892},{"name":"United States","cont":"North America","day":189,"deaths":825},{"name":"United States","cont":"North America","day":193.8,"deaths":750},{"name":"United States","cont":"North America","day":201,"deaths":750},
{"name":"Europe","cont":"Europe","day":0,"deaths":7.8},{"name":"Europe","cont":"Europe","day":3.3,"deaths":16},{"name":"Europe","cont":"Europe","day":6.2,"deaths":35},{"name":"Europe","cont":"Europe","day":9.6,"deaths":110},{"name":"Europe","cont":"Europe","day":12.9,"deaths":287},{"name":"Europe","cont":"Europe","day":16.7,"deaths":619},{"name":"Europe","cont":"Europe","day":21.5,"deaths":1212},{"name":"Europe","cont":"Europe","day":26.3,"deaths":2154},{"name":"Europe","cont":"Europe","day":31.1,"deaths":3350},{"name":"Europe","cont":"Europe","day":34.9,"deaths":4060},{"name":"Europe","cont":"Europe","day":38.8,"deaths":4300},{"name":"Europe","cont":"Europe","day":40.5,"deaths":4100},{"name":"Europe","cont":"Europe","day":43.1,"deaths":4060},{"name":"Europe","cont":"Europe","day":45,"deaths":3950},{"name":"Europe","cont":"Europe","day":47.8,"deaths":3906},{"name":"Europe","cont":"Europe","day":51.2,"deaths":3616},{"name":"Europe","cont":"Europe","day":55,"deaths":3162},{"name":"Europe","cont":"Europe","day":59.8,"deaths":2712},{"name":"Europe","cont":"Europe","day":64.6,"deaths":2239},{"name":"Europe","cont":"Europe","day":69.4,"deaths":1848},{"name":"Europe","cont":"Europe","day":74.2,"deaths":1525},{"name":"Europe","cont":"Europe","day":78.9,"deaths":1283},{"name":"Europe","cont":"Europe","day":82.8,"deaths":1000},{"name":"Europe","cont":"Europe","day":85.2,"deaths":750},{"name":"Europe","cont":"Europe","day":87.6,"deaths":596},{"name":"Europe","cont":"Europe","day":89.5,"deaths":541},{"name":"Europe","cont":"Europe","day":90.9,"deaths":800},{"name":"Europe","cont":"Europe","day":95,"deaths":700},{"name":"Europe","cont":"Europe","day":99.5,"deaths":584},{"name":"Europe","cont":"Europe","day":104,"deaths":520},{"name":"Europe","cont":"Europe","day":107.7,"deaths":464},{"name":"Europe","cont":"Europe","day":109.1,"deaths":656},{"name":"Europe","cont":"Europe","day":113.9,"deaths":584},{"name":"Europe","cont":"Europe","day":114.8,"deaths":362},{"name":"Europe","cont":"Europe","day":120.6,"deaths":383},{"name":"Europe","cont":"Europe","day":126.8,"deaths":369},{"name":"Europe","cont":"Europe","day":131,"deaths":340},{"name":"Europe","cont":"Europe","day":136.4,"deaths":316},{"name":"Europe","cont":"Europe","day":144.5,"deaths":287},{"name":"Europe","cont":"Europe","day":152.2,"deaths":293},{"name":"Europe","cont":"Europe","day":160.3,"deaths":310},{"name":"Europe","cont":"Europe","day":161.7,"deaths":329},{"name":"Europe","cont":"Europe","day":169.9,"deaths":341},{"name":"Europe","cont":"Europe","day":173.2,"deaths":329},{"name":"Europe","cont":"Europe","day":179.4,"deaths":329},{"name":"Europe","cont":"Europe","day":185.6,"deaths":362},{"name":"Europe","cont":"Europe","day":190,"deaths":380},{"name":"Europe","cont":"Europe","day":195.2,"deaths":398},{"name":"Europe","cont":"Europe","day":200,"deaths":511},{"name":"Europe","cont":"Europe","day":204.3,"deaths":541},{"name":"Europe","cont":"Europe","day":210.5,"deaths":596},
{"name":"Asia","cont":"Asia","day":35.4,"deaths":68.9},{"name":"Asia","cont":"Asia","day":35.9,"deaths":58.5},{"name":"Asia","cont":"Asia","day":37.3,"deaths":52},{"name":"Asia","cont":"Asia","day":39.2,"deaths":50},{"name":"Asia","cont":"Asia","day":41.6,"deaths":52},{"name":"Asia","cont":"Asia","day":44,"deaths":53},{"name":"Asia","cont":"Asia","day":46.4,"deaths":59.5},{"name":"Asia","cont":"Asia","day":48.8,"deaths":72},{"name":"Asia","cont":"Asia","day":51.2,"deaths":91},{"name":"Asia","cont":"Asia","day":52.6,"deaths":110},{"name":"Asia","cont":"Asia","day":54.1,"deaths":133},{"name":"Asia","cont":"Asia","day":56.5,"deaths":161},{"name":"Asia","cont":"Asia","day":58.5,"deaths":178},{"name":"Asia","cont":"Asia","day":61.2,"deaths":196},{"name":"Asia","cont":"Asia","day":63.5,"deaths":215},{"name":"Asia","cont":"Asia","day":66,"deaths":237},{"name":"Asia","cont":"Asia","day":68.5,"deaths":262},{"name":"Asia","cont":"Asia","day":70.8,"deaths":287},{"name":"Asia","cont":"Asia","day":73,"deaths":310},{"name":"Asia","cont":"Asia","day":75.6,"deaths":329},{"name":"Asia","cont":"Asia","day":78.9,"deaths":348},{"name":"Asia","cont":"Asia","day":80.5,"deaths":380},{"name":"Asia","cont":"Asia","day":82.3,"deaths":422},{"name":"Asia","cont":"Asia","day":83.7,"deaths":541},{"name":"Asia","cont":"Asia","day":89.5,"deaths":541},{"name":"Asia","cont":"Asia","day":90,"deaths":369},{"name":"Asia","cont":"Asia","day":94,"deaths":355},{"name":"Asia","cont":"Asia","day":98.1,"deaths":348},{"name":"Asia","cont":"Asia","day":103,"deaths":355},{"name":"Asia","cont":"Asia","day":107.7,"deaths":362},{"name":"Asia","cont":"Asia","day":112,"deaths":372},{"name":"Asia","cont":"Asia","day":115.8,"deaths":383},{"name":"Asia","cont":"Asia","day":123,"deaths":383},{"name":"Asia","cont":"Asia","day":128.2,"deaths":483},{"name":"Asia","cont":"Asia","day":131.5,"deaths":560},{"name":"Asia","cont":"Asia","day":134.9,"deaths":656},{"name":"Asia","cont":"Asia","day":138,"deaths":740},{"name":"Asia","cont":"Asia","day":141.1,"deaths":825},{"name":"Asia","cont":"Asia","day":142.6,"deaths":1039},{"name":"Asia","cont":"Asia","day":145,"deaths":1100},{"name":"Asia","cont":"Asia","day":149.3,"deaths":1143},{"name":"Asia","cont":"Asia","day":150.7,"deaths":909},{"name":"Asia","cont":"Asia","day":155.5,"deaths":945},{"name":"Asia","cont":"Asia","day":159,"deaths":990},{"name":"Asia","cont":"Asia","day":163.6,"deaths":1039},{"name":"Asia","cont":"Asia","day":166.5,"deaths":1120},{"name":"Asia","cont":"Asia","day":169.9,"deaths":1196},{"name":"Asia","cont":"Asia","day":174.6,"deaths":1359},{"name":"Asia","cont":"Asia","day":179.4,"deaths":1525},{"name":"Asia","cont":"Asia","day":182,"deaths":1480},{"name":"Asia","cont":"Asia","day":185.6,"deaths":1413},{"name":"Asia","cont":"Asia","day":189,"deaths":1480},{"name":"Asia","cont":"Asia","day":193.8,"deaths":1555},{"name":"Asia","cont":"Asia","day":198,"deaths":1640},{"name":"Asia","cont":"Asia","day":201.9,"deaths":1711},{"name":"Asia","cont":"Asia","day":206,"deaths":1800},{"name":"Asia","cont":"Asia","day":211.5,"deaths":1884},{"name":"Asia","cont":"Asia","day":214,"deaths":1920},{"name":"Asia","cont":"Asia","day":217.7,"deaths":1957},{"name":"Asia","cont":"Asia","day":221,"deaths":2000},{"name":"Asia","cont":"Asia","day":225.8,"deaths":2033},{"name":"Asia","cont":"Asia","day":229,"deaths":1960},{"name":"Asia","cont":"Asia","day":233.5,"deaths":1884},{"name":"Asia","cont":"Asia","day":237,"deaths":1860},{"name":"Asia","cont":"Asia","day":240.2,"deaths":1848},{"name":"Asia","cont":"Asia","day":243,"deaths":1870},{"name":"Asia","cont":"Asia","day":246.4,"deaths":1848},{"name":"Asia","cont":"Asia","day":252.2,"deaths":1811},
{"name":"Australia","cont":"Oceania","day":0,"deaths":5.2},{"name":"Australia","cont":"Oceania","day":2.4,"deaths":7.5},{"name":"Australia","cont":"Oceania","day":4.8,"deaths":8.2},{"name":"Australia","cont":"Oceania","day":7.2,"deaths":7.5},{"name":"Australia","cont":"Oceania","day":9.6,"deaths":9.5},{"name":"Australia","cont":"Oceania","day":12,"deaths":10.5},{"name":"Australia","cont":"Oceania","day":15.3,"deaths":12.6},{"name":"Australia","cont":"Oceania","day":17.7,"deaths":14.5},{"name":"Australia","cont":"Oceania","day":20.6,"deaths":14.5},{"name":"Australia","cont":"Oceania","day":22,"deaths":13.8},{"name":"Australia","cont":"Oceania","day":23.9,"deaths":13.4},{"name":"Australia","cont":"Oceania","day":25.5,"deaths":14.2},{"name":"Australia","cont":"Oceania","day":27.3,"deaths":13.4},{"name":"Australia","cont":"Oceania","day":29.7,"deaths":13.2},{"name":"Australia","cont":"Oceania","day":32.1,"deaths":14.7},{"name":"Australia","cont":"Oceania","day":33.5,"deaths":15.4},{"name":"Australia","cont":"Oceania","day":34.9,"deaths":16.2},{"name":"Australia","cont":"Oceania","day":36.8,"deaths":18.6},{"name":"Australia","cont":"Oceania","day":38.3,"deaths":21.3},{"name":"Australia","cont":"Oceania","day":39.7,"deaths":20.4},{"name":"Australia","cont":"Oceania","day":41.6,"deaths":18.6},{"name":"Australia","cont":"Oceania","day":44,"deaths":17.5},{"name":"Australia","cont":"Oceania","day":45.5,"deaths":8.6},{"name":"Australia","cont":"Oceania","day":47,"deaths":9},{"name":"Australia","cont":"Oceania","day":48.8,"deaths":7.6},{"name":"Australia","cont":"Oceania","day":50.2,"deaths":6.5},{"name":"Australia","cont":"Oceania","day":52,"deaths":7},{"name":"Australia","cont":"Oceania","day":53.5,"deaths":6},{"name":"Australia","cont":"Oceania","day":55,"deaths":5.8},{"name":"Australia","cont":"Oceania","day":57,"deaths":6.1},{"name":"Australia","cont":"Oceania","day":58.5,"deaths":5},{"name":"Australia","cont":"Oceania","day":59.8,"deaths":4.5},{"name":"Australia","cont":"Oceania","day":61.5,"deaths":4.8},{"name":"Australia","cont":"Oceania","day":63.2,"deaths":3.5},{"name":"Australia","cont":"Oceania","day":64.5,"deaths":3.9},{"name":"Australia","cont":"Oceania","day":66,"deaths":3.7},
{"name":"Oceania","cont":"Oceania","day":0,"deaths":5.4},{"name":"Oceania","cont":"Oceania","day":2.4,"deaths":7.9},{"name":"Oceania","cont":"Oceania","day":4.8,"deaths":8.6},{"name":"Oceania","cont":"Oceania","day":7.2,"deaths":7.9},{"name":"Oceania","cont":"Oceania","day":9.6,"deaths":10},{"name":"Oceania","cont":"Oceania","day":12,"deaths":11},{"name":"Oceania","cont":"Oceania","day":15.3,"deaths":13.3},{"name":"Oceania","cont":"Oceania","day":17.7,"deaths":15.3},{"name":"Oceania","cont":"Oceania","day":20.6,"deaths":15.3},{"name":"Oceania","cont":"Oceania","day":22,"deaths":14.5},{"name":"Oceania","cont":"Oceania","day":23.9,"deaths":14.1},{"name":"Oceania","cont":"Oceania","day":25.5,"deaths":15},{"name":"Oceania","cont":"Oceania","day":27.3,"deaths":14.1},{"name":"Oceania","cont":"Oceania","day":29.7,"deaths":13.9},{"name":"Oceania","cont":"Oceania","day":32.1,"deaths":15.5},{"name":"Oceania","cont":"Oceania","day":33.5,"deaths":16.2},{"name":"Oceania","cont":"Oceania","day":34.9,"deaths":17.1},{"name":"Oceania","cont":"Oceania","day":36.8,"deaths":19.6},{"name":"Oceania","cont":"Oceania","day":38.3,"deaths":22.4},{"name":"Oceania","cont":"Oceania","day":39.7,"deaths":21.5},{"name":"Oceania","cont":"Oceania","day":41.6,"deaths":19.6},{"name":"Oceania","cont":"Oceania","day":44,"deaths":18.5},{"name":"Oceania","cont":"Oceania","day":45.5,"deaths":10.4},{"name":"Oceania","cont":"Oceania","day":47,"deaths":11},{"name":"Oceania","cont":"Oceania","day":48.8,"deaths":9.6},{"name":"Oceania","cont":"Oceania","day":50,"deaths":10.2},{"name":"Oceania","cont":"Oceania","day":51.7,"deaths":7.9},{"name":"Oceania","cont":"Oceania","day":53,"deaths":8.4},{"name":"Oceania","cont":"Oceania","day":55,"deaths":7.2},{"name":"Oceania","cont":"Oceania","day":56.5,"deaths":7.1},{"name":"Oceania","cont":"Oceania","day":58,"deaths":7.6},{"name":"Oceania","cont":"Oceania","day":60,"deaths":6},{"name":"Oceania","cont":"Oceania","day":61.2,"deaths":5.8},{"name":"Oceania","cont":"Oceania","day":63,"deaths":6.2},{"name":"Oceania","cont":"Oceania","day":64,"deaths":5},{"name":"Oceania","cont":"Oceania","day":66,"deaths":4.5}
]
},
"layer": [
{
"data": {"name": "gray"},
"mark": {"type": "line", "color": "#d6d6d6", "strokeWidth": 0.9, "clip": true},
"encoding": {
"x": {"field": "day", "type": "quantitative",
 "scale": {"domain": [0, 275], "nice": false, "zero": false},
 "axis": {"title": "Days since 5 daily new deaths first reported", "values": [0, 50, 100, 150, 200, 250], "grid": true, "gridDash": [3, 3], "gridColor": "#d9d9d9", "domain": false, "ticks": false, "labelFontSize": 14, "labelColor": "#666", "labelPadding": 3, "labelFont": "Liberation Sans", "titleFont": "Liberation Sans", "titleFontSize": 11.5, "titleFontWeight": "normal", "titleColor": "#333", "titleX": 258, "titlePadding": 5}},
"y": {"field": "deaths", "type": "quantitative",
 "scale": {"type": "log", "domain": [2.6, 4800], "nice": false},
 "axis": {"title": "Daily new confirmed COVID-19 deaths", "values": [5, 10, 20, 50, 100, 200, 500, 1000, 2000], "format": ",", "grid": true, "gridDash": [3, 3], "gridColor": "#d9d9d9", "domain": true, "domainColor": "#cfcfcf", "ticks": false, "labelFontSize": 14, "labelColor": "#666", "labelPadding": 5, "labelFont": "Liberation Sans", "titleFont": "Liberation Sans", "titleFontSize": 11.5, "titleFontWeight": "normal", "titleColor": "#333", "titleX": -55, "titleY": 213, "titleBaseline": "middle", "titleAngle": 270}},
"detail": {"field": "id", "type": "nominal"}
}
},
{
"data": {"name": "main"},
"mark": {"type": "line", "strokeWidth": 1.8, "clip": true},
"encoding": {
"x": {"field": "day", "type": "quantitative"},
"y": {"field": "deaths", "type": "quantitative"},
"color": {"field": "cont", "type": "nominal",
 "scale": {"domain": ["Africa", "Asia", "Europe", "North America", "Oceania", "South America"], "range": ["#c9c9c9", "#2f9791", "#56637e", "#e2574c", "#b3693b", "#8e2a3c"]},
 "legend": {"title": "Continent", "orient": "none", "legendX": 598, "legendY": 0, "padding": 0, "symbolType": "square", "symbolSize": 90, "symbolStrokeWidth": 0, "labelFontSize": 11.5, "labelFont": "Liberation Sans", "labelColor": "#333", "labelOffset": 4, "titleFont": "Liberation Sans", "titleFontSize": 13, "titleColor": "#111", "titleFontWeight": "bold", "titlePadding": 5, "rowPadding": 3,
  "encode": {"symbols": {"update": {"fill": {"scale": "color", "field": "value"}, "strokeWidth": {"value": 0}}}, "labels": {"update": {"fill": {"signal": "datum.label === 'Africa' ? '#c4c4c4' : '#333'"}, "fontWeight": {"signal": "datum.label === 'Oceania' ? 'bold' : 'normal'"}}}}}},
"detail": {"field": "name", "type": "nominal"}
}
},
{
"data": {"name": "main"},
"transform": [{"joinaggregate": [{"op": "min", "field": "day", "as": "firstDay"}], "groupby": ["name"]}, {"filter": "datum.day === datum.firstDay"}],
"mark": {"type": "point", "filled": true, "size": 22, "opacity": 1},
"encoding": {"x": {"field": "day", "type": "quantitative"}, "y": {"field": "deaths", "type": "quantitative"}, "color": {"field": "cont", "type": "nominal", "legend": null}}
},
{
"data": {"name": "main"},
"transform": [{"joinaggregate": [{"op": "max", "field": "day", "as": "lastDay"}], "groupby": ["name"]}, {"filter": "datum.day === datum.lastDay"}, {"filter": {"field": "name", "oneOf": ["Asia", "North America", "United States", "Europe"]}}],
"mark": {"type": "point", "filled": true, "size": 30, "shape": "triangle-right", "opacity": 1},
"encoding": {"x": {"field": "day", "type": "quantitative"}, "y": {"field": "deaths", "type": "quantitative"}, "color": {"field": "cont", "type": "nominal", "legend": null}}
},
{
"data": {"name": "main"},
"transform": [{"joinaggregate": [{"op": "max", "field": "day", "as": "lastDay"}], "groupby": ["name"]}, {"filter": "datum.day === datum.lastDay"}, {"filter": {"field": "name", "oneOf": ["South America"]}}],
"mark": {"type": "point", "filled": true, "size": 30, "shape": "triangle-up", "opacity": 1},
"encoding": {"x": {"field": "day", "type": "quantitative"}, "y": {"field": "deaths", "type": "quantitative"}, "color": {"field": "cont", "type": "nominal", "legend": null}}
},
{
"data": {"name": "main"},
"transform": [{"joinaggregate": [{"op": "max", "field": "day", "as": "lastDay"}], "groupby": ["name"]}, {"filter": "datum.day === datum.lastDay"}, {"filter": {"field": "name", "oneOf": ["Oceania", "Australia"]}}],
"mark": {"type": "point", "filled": true, "size": 30, "shape": "triangle-down", "opacity": 1},
"encoding": {"x": {"field": "day", "type": "quantitative"}, "y": {"field": "deaths", "type": "quantitative"}, "color": {"field": "cont", "type": "nominal", "legend": null}}
},
{
"data": {"name": "main"},
"transform": [{"joinaggregate": [{"op": "max", "field": "day", "as": "lastDay"}], "groupby": ["name"]}, {"filter": "datum.day === datum.lastDay"}, {"filter": {"field": "name", "oneOf": ["Asia", "North America", "South America"]}}],
"mark": {"type": "text", "align": "left", "baseline": "middle", "dx": 7, "dy": -3, "fontSize": 12, "fontWeight": "bold", "font": "Liberation Sans"},
"encoding": {"x": {"field": "day", "type": "quantitative"}, "y": {"field": "deaths", "type": "quantitative"}, "text": {"field": "name"}, "color": {"field": "cont", "type": "nominal", "legend": null}}
},
{
"data": {"name": "main"},
"transform": [{"joinaggregate": [{"op": "max", "field": "day", "as": "lastDay"}], "groupby": ["name"]}, {"filter": "datum.day === datum.lastDay"}, {"filter": {"field": "name", "oneOf": ["United States"]}}],
"mark": {"type": "text", "align": "left", "baseline": "middle", "dx": 5, "dy": 7, "fontSize": 12, "fontWeight": "bold", "font": "Liberation Sans"},
"encoding": {"x": {"field": "day", "type": "quantitative"}, "y": {"field": "deaths", "type": "quantitative"}, "text": {"field": "name"}, "color": {"field": "cont", "type": "nominal", "legend": null}}
},
{
"data": {"name": "main"},
"transform": [{"joinaggregate": [{"op": "max", "field": "day", "as": "lastDay"}], "groupby": ["name"]}, {"filter": "datum.day === datum.lastDay"}, {"filter": {"field": "name", "oneOf": ["Europe"]}}],
"mark": {"type": "text", "align": "left", "baseline": "middle", "dx": 12, "dy": -10, "fontSize": 12, "fontWeight": "bold", "font": "Liberation Sans"},
"encoding": {"x": {"field": "day", "type": "quantitative"}, "y": {"field": "deaths", "type": "quantitative"}, "text": {"field": "name"}, "color": {"field": "cont", "type": "nominal", "legend": null}}
},
{
"data": {"name": "main"},
"transform": [{"joinaggregate": [{"op": "max", "field": "day", "as": "lastDay"}], "groupby": ["name"]}, {"filter": "datum.day === datum.lastDay"}, {"filter": {"field": "name", "oneOf": ["Oceania"]}}],
"mark": {"type": "text", "align": "left", "baseline": "middle", "dx": 4, "dy": 1, "fontSize": 12, "fontWeight": "bold", "font": "Liberation Sans"},
"encoding": {"x": {"field": "day", "type": "quantitative"}, "y": {"field": "deaths", "type": "quantitative"}, "text": {"field": "name"}, "color": {"field": "cont", "type": "nominal", "legend": null}}
},
{
"data": {"name": "main"},
"transform": [{"joinaggregate": [{"op": "max", "field": "day", "as": "lastDay"}], "groupby": ["name"]}, {"filter": "datum.day === datum.lastDay"}, {"filter": {"field": "name", "oneOf": ["Australia"]}}],
"mark": {"type": "text", "align": "left", "baseline": "middle", "dx": 4, "dy": 6, "fontSize": 12, "fontWeight": "bold", "font": "Liberation Sans"},
"encoding": {"x": {"field": "day", "type": "quantitative"}, "y": {"field": "deaths", "type": "quantitative"}, "text": {"field": "name"}, "color": {"field": "cont", "type": "nominal", "legend": null}}
},
{
"data": {"name": "main"},
"transform": [{"joinaggregate": [{"op": "min", "field": "day", "as": "firstDay"}], "groupby": ["name"]}, {"filter": "datum.day === datum.firstDay"}, {"filter": {"field": "name", "oneOf": ["Asia"]}}],
"mark": {"type": "text", "align": "right", "baseline": "middle", "dx": -7, "dy": -8, "fontSize": 7.5, "font": "Liberation Sans", "color": "#2f9791"},
"encoding": {"x": {"field": "day", "type": "quantitative"}, "y": {"field": "deaths", "type": "quantitative"}, "text": {"value": "68.9 deaths"}}
},
{
"data": {"name": "main"},
"transform": [{"joinaggregate": [{"op": "min", "field": "day", "as": "firstDay"}], "groupby": ["name"]}, {"filter": "datum.day === datum.firstDay"}, {"filter": {"field": "name", "oneOf": ["Oceania"]}}],
"mark": {"type": "text", "align": "left", "baseline": "middle", "dx": 2, "dy": 6, "fontSize": 7.5, "font": "Liberation Sans", "color": "#b3693b"},
"encoding": {"x": {"field": "day", "type": "quantitative"}, "y": {"field": "deaths", "type": "quantitative"}, "text": {"value": "5.4 deaths"}}
},
{
"data": {"values": [{}]},
"mark": {"type": "rule", "color": "#cccccc", "strokeWidth": 1},
"encoding": {"x": {"datum": 286.1, "type": "quantitative"}, "x2": {"datum": 325.4}, "y": {"datum": 531, "type": "quantitative"}}
},
{
"data": {"values": [{}]},
"mark": {"type": "text", "align": "left", "baseline": "top", "lineBreak": "|", "lineHeight": 12.5, "fontSize": 11.5, "font": "Liberation Sans", "color": "#555"},
"encoding": {"x": {"datum": 286.1, "type": "quantitative"}, "y": {"datum": 420, "type": "quantitative"}, "text": {"value": "Mar|1,|2020"}}
},
{
"data": {"values": [{}]},
"mark": {"type": "text", "align": "left", "baseline": "top", "lineBreak": "|", "lineHeight": 12.5, "fontSize": 11.5, "font": "Liberation Sans", "color": "#555"},
"encoding": {"x": {"datum": 316.3, "type": "quantitative"}, "y": {"datum": 420, "type": "quantitative"}, "text": {"value": "Oct|3,|2020"}}
},
{
"data": {"values": [{}]},
"mark": {"type": "rule", "color": "#666", "strokeWidth": 1},
"encoding": {"x": {"datum": 300, "type": "quantitative"}, "x2": {"datum": 313}, "y": {"datum": 300, "type": "quantitative"}}
},
{
"data": {"values": [{}]},
"mark": {"type": "point", "shape": "triangle-right", "filled": true, "size": 18, "color": "#666", "opacity": 1},
"encoding": {"x": {"datum": 313.5, "type": "quantitative"}, "y": {"datum": 300, "type": "quantitative"}}
},
{
"data": {"values": [{}]},
"mark": {"type": "point", "shape": "circle", "filled": true, "size": 8, "color": "#666", "opacity": 1},
"encoding": {"x": {"datum": 300, "type": "quantitative"}, "y": {"datum": 300, "type": "quantitative"}}
},
{
"data": {"values": [{}]},
"mark": {"type": "point", "shape": "circle", "filled": true, "size": 8, "color": "#666", "opacity": 1},
"encoding": {"x": {"datum": 304.3, "type": "quantitative"}, "y": {"datum": 300, "type": "quantitative"}}
},
{
"data": {"values": [{}]},
"mark": {"type": "point", "shape": "circle", "filled": true, "size": 8, "color": "#666", "opacity": 1},
"encoding": {"x": {"datum": 308.6, "type": "quantitative"}, "y": {"datum": 300, "type": "quantitative"}}
},
{
"data": {"values": [{}]},
"mark": {"type": "text", "align": "left", "baseline": "top", "lineBreak": "|", "lineHeight": 15, "fontSize": 10.3, "font": "Lato", "color": "#222"},
"encoding": {"x": {"datum": 281.3, "type": "quantitative"}, "y": {"datum": 38, "type": "quantitative"}, "text": {"value": "Source: European CDC-|Situation Update|Worldwide-Last|updated 3 October,|10:35 (London time),|Our World in Data"}}
},
{
"data": {"values": [{}]},
"mark": {"type": "text", "align": "left", "baseline": "middle", "fontSize": 13.5, "font": "Lato", "color": "#222"},
"encoding": {"x": {"datum": 281.3, "type": "quantitative"}, "y": {"datum": 4.64, "type": "quantitative"}, "text": {"value": "CC BY"}}
}
]
}
